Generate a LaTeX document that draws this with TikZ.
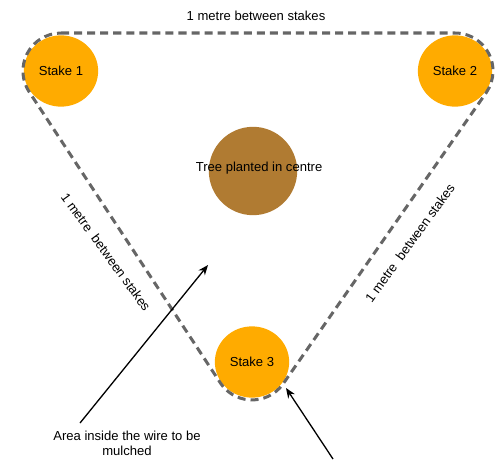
\documentclass[tikz,border=0pt]{standalone}
\usepackage{fontspec}
\setmainfont{Liberation Sans}
\usepackage{tikz}
\usetikzlibrary{shapes.geometric, arrows.meta}
\definecolor{stakeorange}{HTML}{FFAB00}
\definecolor{treebrown}{HTML}{B07B32}
\definecolor{wiregrey}{HTML}{666666}

\begin{document}
\begin{tikzpicture}[scale=0.35]
        \tikzstyle{every node}+=[inner sep=0pt, font=\fontsize{13}{15}\selectfont]
        \tikzstyle{stake}=[ellipse, fill=stakeorange, minimum width=74pt, minimum height=71pt]
        \tikzstyle{wire}=[wiregrey, line width=3pt, dash pattern=on 8pt off 5pt]
        \tikzstyle{pointer}=[black, line width=1.3pt, -{Stealth[length=10pt, width=8pt]}]
        \useasboundingbox (0,0) rectangle (49.7,-45.9);
        \node [stake] (s1) at (6.1,-7.1) {Stake 1};
        \node [stake] (s2) at (45.5,-7.1) {Stake 2};
        \node [stake] (s3) at (25.2,-36.2) {Stake 3};
        \node [circle, fill=treebrown, minimum size=88pt,
          label={[xshift=6pt, yshift=3pt]center:Tree planted in centre}] (tree) at (25.3,-17.1) {};
        \draw [wire] (6.1,-3.3) -- (45.5,-3.3) arc (90:-34.9:3.8)
          -- (28.32,-38.37) arc (-34.9:-146.7:3.8)
          -- (2.92,-9.19) arc (213.3:90:3.8) -- cycle;
        \node (topside) at (25.6,-1.6) {1 metre between stakes};
        \node [rotate=-54] (leftside) at (10.6,-25.2) {1 metre~ between stakes};
        \node [rotate=54] (rightside) at (41.0,-24.3) {1 metre~ between stakes};
        \node [align=center] (area) at (12.7,-44.3) {Area inside the wire to be\\mulched};
        \coordinate (areatail) at (8.0,-42.3);
        \coordinate (mulch) at (20.8,-26.5);
        \draw [pointer] (areatail) -- (mulch);
        \coordinate (wirebase) at (33.3,-45.9);
        \coordinate (wiretip) at (28.6,-38.8);
        \draw [pointer] (wirebase) -- (wiretip);
\end{tikzpicture}
\end{document}
